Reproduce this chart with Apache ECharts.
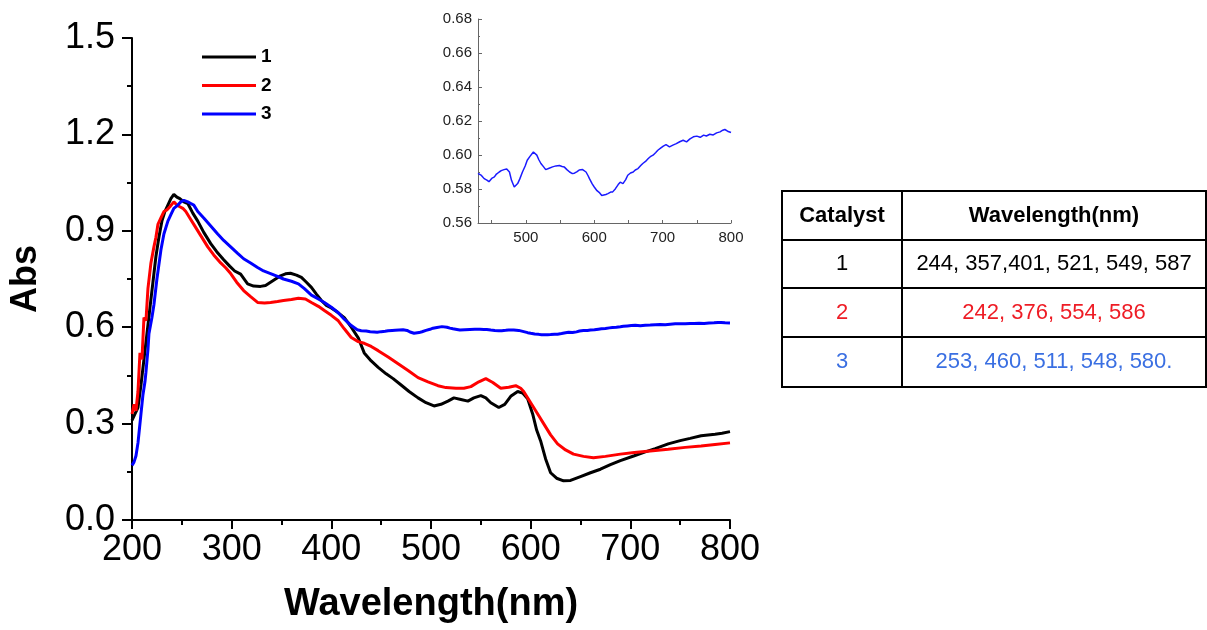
<!DOCTYPE html>
<html>
<head>
<meta charset="utf-8">
<script src="https://cdn.jsdelivr.net/npm/echarts@6/dist/echarts.min.js"></script>
<style>
html,body{margin:0;padding:0;background:#fff;}
#chart{width:1207px;height:630px;}
</style>
</head>
<body>
<div id="chart"></div>
<script>
// ---- Data ----
const wl1 = [200,203,206,209,212,215,218,221,224,227,230,233,236,239,242,245,248,252,256,261,266,272,279,285,292,298,303,309,316,322,329,334,339,344,349,354,359,365,370,375,380,385,390,395,400,406,413,420,427,433,440,447,455,462,470,478,487,495,503,510,517,523,530,537,543,550,555,560,568,574,580,587,592,597,602,606,610,615,620,626,633,640,650,660,670,680,690,704,715,725,738,750,760,771,785,792,800];
const abs1 = [0.31,0.33,0.35,0.42,0.50,0.58,0.66,0.74,0.82,0.88,0.93,0.96,0.98,1.00,1.013,1.005,1.00,0.99,0.985,0.955,0.93,0.895,0.86,0.835,0.81,0.79,0.775,0.765,0.735,0.728,0.727,0.73,0.74,0.75,0.76,0.766,0.768,0.762,0.755,0.74,0.724,0.703,0.683,0.668,0.66,0.647,0.63,0.60,0.567,0.52,0.495,0.475,0.455,0.44,0.42,0.40,0.38,0.365,0.355,0.36,0.37,0.38,0.375,0.37,0.38,0.387,0.38,0.365,0.35,0.36,0.385,0.40,0.395,0.377,0.33,0.28,0.246,0.19,0.147,0.13,0.122,0.123,0.135,0.147,0.158,0.172,0.185,0.20,0.212,0.222,0.237,0.247,0.254,0.262,0.267,0.27,0.275];

const wl2 = [200,202,204,206,208,210,212,214,216,219,222,224,226,229,232,235,238,242,245,248,251,254,258,262,269,276,282,289,294,299,305,312,319,326,333,339,346,352,360,367,374,380,387,393,400,407,413,420,427,433,440,447,457,467,477,487,497,507,515,525,533,540,548,555,562,570,578,585,590,593,598,603,608,613,620,627,635,643,653,663,675,690,704,720,738,755,771,785,800];
const abs2 = [0.33,0.36,0.34,0.40,0.52,0.50,0.63,0.62,0.72,0.80,0.85,0.88,0.92,0.94,0.96,0.965,0.975,0.99,0.98,0.975,0.97,0.96,0.94,0.92,0.885,0.85,0.825,0.80,0.785,0.767,0.74,0.714,0.695,0.677,0.675,0.677,0.68,0.683,0.686,0.69,0.688,0.677,0.665,0.652,0.637,0.62,0.595,0.568,0.555,0.55,0.54,0.527,0.507,0.486,0.465,0.443,0.43,0.418,0.412,0.41,0.41,0.415,0.43,0.44,0.428,0.41,0.413,0.418,0.41,0.40,0.375,0.35,0.325,0.30,0.265,0.237,0.218,0.205,0.198,0.194,0.198,0.205,0.21,0.215,0.22,0.226,0.23,0.235,0.24];

const wl3 = [200,202,204,206,207,209,211,213,214,216,217,220,222,225,229,232,236,239,242,246,249,252,256,259,262,266,272,279,286,292,299,306,312,319,326,332,339,346,352,360,367,373,380,387,393,400,407,413,420,426];
const abs3 = [0.17,0.18,0.20,0.24,0.27,0.33,0.39,0.43,0.46,0.53,0.58,0.63,0.67,0.75,0.84,0.89,0.93,0.95,0.97,0.98,0.99,0.995,0.99,0.985,0.98,0.96,0.94,0.915,0.89,0.87,0.85,0.83,0.813,0.80,0.786,0.775,0.767,0.758,0.75,0.743,0.735,0.72,0.70,0.688,0.677,0.662,0.645,0.625,0.605,0.592];

// inset (sample 3, 430-800 nm)
const insetWl = [430,435,439,443,446,450,454,457,461,464,468,472,476,479,483,488,491,495,499,502,506,511,516,519,522,526,529,534,539,544,549,553,556,560,564,568,571,575,578,583,588,591,593,597,600,604,608,611,613,617,620,624,627,631,635,638,642,646,649,653,657,660,664,668,671,675,679,682,686,690,693,697,701,705,710,715,720,725,730,735,740,745,750,755,760,764,769,774,779,784,788,791,795,800];
const insetAbs = [0.5892,0.5880,0.5861,0.5852,0.5843,0.5862,0.5871,0.5888,0.5900,0.5908,0.5914,0.5918,0.5900,0.5851,0.5812,0.5832,0.5858,0.5900,0.5935,0.5969,0.5992,0.6018,0.5999,0.5972,0.5950,0.5930,0.5914,0.5922,0.5930,0.5936,0.5938,0.5932,0.5930,0.5914,0.5900,0.5891,0.5893,0.5902,0.5912,0.5914,0.5900,0.5878,0.5861,0.5830,0.5812,0.5790,0.5777,0.5762,0.5753,0.5768,0.5773,0.5782,0.5783,0.5802,0.5826,0.5840,0.5832,0.5855,0.5881,0.5894,0.5900,0.5912,0.5920,0.5938,0.5950,0.5962,0.5979,0.5990,0.5999,0.6015,0.6028,0.6040,0.6052,0.6061,0.6048,0.6058,0.6067,0.6078,0.6087,0.6077,0.6095,0.6107,0.6111,0.6104,0.6117,0.6112,0.6122,0.6118,0.6130,0.6136,0.6146,0.6150,0.6140,0.6132];

const seriesNames = ['1','2','3'];
const xTicksMain = [200,300,400,500,600,700,800];
const yTicksMain = [0.0,0.3,0.6,0.9,1.2,1.5];
const insetXLabels = [500,600,700,800];
const insetXTicks = [450,500,550,600,650,700,750,800];

const tableHeader = ['Catalyst','Wavelength(nm)'];
const tableCatalysts = ['1','2','3'];
const tablePeaks = ['244, 357,401, 521, 549, 587','242, 376, 554, 586','253, 460, 511, 548, 580.'];

// ---- Build ----
function zip(a,b){return a.map((v,i)=>[v,b[i]]);}
const blueMainWl = wl3.concat(insetWl);
const blueMainAbs = abs3.concat(insetAbs);

const FONT = "'Liberation Sans', Arial, sans-serif";
const tableColors = ['#000000','#ee1c25','#3a6fe2'];

// table graphics
const tX = 782, tY = 191, tW = 424, tDiv = 902;
const rowBounds = [191,240,288,337,387];
const graphics = [];
graphics.push({type:'rect', shape:{x:tX,y:tY,width:tW,height:rowBounds[4]-tY}, style:{fill:'none',stroke:'#000',lineWidth:2}});
graphics.push({type:'line', shape:{x1:tDiv,y1:tY,x2:tDiv,y2:rowBounds[4]}, style:{stroke:'#000',lineWidth:2}});
for (let i=1;i<4;i++){
  graphics.push({type:'line', shape:{x1:tX,y1:rowBounds[i],x2:tX+tW,y2:rowBounds[i]}, style:{stroke:'#000',lineWidth:2}});
}
const c1 = (tX+tDiv)/2, c2 = (tDiv+tX+tW)/2;
graphics.push({type:'text', x:c1, y:(rowBounds[0]+rowBounds[1])/2, style:{text:tableHeader[0], font:"bold 22px "+FONT, fill:'#000', align:'center', verticalAlign:'middle'}});
graphics.push({type:'text', x:c2, y:(rowBounds[0]+rowBounds[1])/2, style:{text:tableHeader[1], font:"bold 22px "+FONT, fill:'#000', align:'center', verticalAlign:'middle'}});
for (let i=0;i<3;i++){
  const cy = (rowBounds[i+1]+rowBounds[i+2])/2;
  graphics.push({type:'text', x:c1, y:cy, style:{text:tableCatalysts[i], font:"22px "+FONT, fill:tableColors[i], align:'center', verticalAlign:'middle'}});
  graphics.push({type:'text', x:c2, y:cy, style:{text:tablePeaks[i], font:"22px "+FONT, fill:tableColors[i], align:'center', verticalAlign:'middle'}});
}

const chart = echarts.init(document.getElementById('chart'), null, {renderer:'canvas'});
const option = {
  backgroundColor:'#fff',
  animation:false,
  textStyle:{fontFamily:FONT},
  legend:{
    data:seriesNames,
    orient:'vertical', left:202, top:47, padding:0, itemGap:8.5,
    icon:'rect', itemWidth:54, itemHeight:3,
    textStyle:{fontSize:19, fontWeight:'bold', color:'#000', lineHeight:20, fontFamily:FONT}
  },
  grid:[
    {left:132, top:38, width:598, height:482},
    {left:478, top:19, width:253, height:204}
  ],
  xAxis:[
    {type:'value', gridIndex:0, min:200, max:800, interval:100,
     name:'Wavelength(nm)', nameLocation:'middle', nameGap:66,
     nameTextStyle:{fontSize:38, fontWeight:'bold', color:'#000', fontFamily:FONT},
     axisLine:{show:true, onZero:false, lineStyle:{color:'#000', width:2}},
     axisTick:{show:true, length:9, lineStyle:{color:'#000', width:2}},
     minorTick:{show:true, splitNumber:2, length:5, lineStyle:{color:'#000', width:2}},
     axisLabel:{fontSize:36, color:'#000', margin:12, fontFamily:FONT, customValues:xTicksMain},
     splitLine:{show:false}},
    {type:'value', gridIndex:1, min:430, max:800,
     axisLine:{show:true, onZero:false, lineStyle:{color:'#666', width:1}},
     axisTick:{show:true, inside:true, length:3, customValues:insetXTicks, lineStyle:{color:'#666'}},
     axisLabel:{fontSize:15, color:'#222', margin:7, fontFamily:FONT, customValues:insetXLabels},
     splitLine:{show:false}}
  ],
  yAxis:[
    {type:'value', gridIndex:0, min:0, max:1.5, interval:0.3,
     name:'Abs', nameLocation:'middle', nameGap:88, nameRotate:90,
     nameTextStyle:{fontSize:36, fontWeight:'bold', color:'#000', fontFamily:FONT},
     axisLine:{show:true, onZero:false, lineStyle:{color:'#000', width:2}},
     axisTick:{show:true, length:10, lineStyle:{color:'#000', width:2}},
     minorTick:{show:true, splitNumber:2, length:5, lineStyle:{color:'#000', width:2}},
     axisLabel:{fontSize:36, color:'#000', margin:17, fontFamily:FONT, customValues:yTicksMain, formatter:v=>Number(v).toFixed(1)},
     splitLine:{show:false}},
    {type:'value', gridIndex:1, min:0.56, max:0.68, interval:0.02,
     axisLine:{show:true, onZero:false, lineStyle:{color:'#666', width:1}},
     axisTick:{show:true, inside:true, length:4, lineStyle:{color:'#666'}},
     minorTick:{show:true, splitNumber:2, length:2, lineStyle:{color:'#666'}},
     axisLabel:{fontSize:15, color:'#222', margin:6, fontFamily:FONT, formatter:v=>Number(v).toFixed(2)},
     splitLine:{show:false}}
  ],
  series:[
    {name:seriesNames[0], type:'line', xAxisIndex:0, yAxisIndex:0, data:zip(wl1,abs1), symbol:'none', lineStyle:{width:3}, color:'#000000'},
    {name:seriesNames[1], type:'line', xAxisIndex:0, yAxisIndex:0, data:zip(wl2,abs2), symbol:'none', lineStyle:{width:3}, color:'#ff0000'},
    {name:seriesNames[2], type:'line', xAxisIndex:0, yAxisIndex:0, data:zip(blueMainWl,blueMainAbs), symbol:'none', lineStyle:{width:3}, color:'#0000ff'},
    {name:'inset', type:'line', xAxisIndex:1, yAxisIndex:1, data:zip(insetWl,insetAbs), symbol:'none', lineStyle:{width:1.5}, color:'#1a1aff'}
  ],
  graphic:graphics
};
chart.setOption(option);
</script>
</body>
</html>
